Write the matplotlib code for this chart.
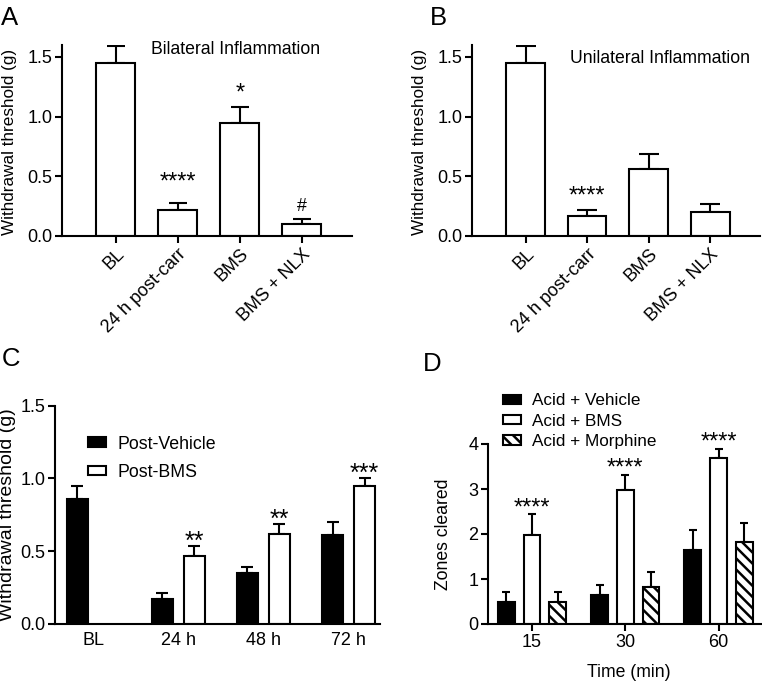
import numpy as np
import matplotlib
matplotlib.use("Agg")
import matplotlib.pyplot as plt

plt.rcParams['font.family'] = ['Liberation Sans', 'DejaVu Sans']
plt.rcParams['hatch.linewidth'] = 1.8
plt.rcParams['axes.linewidth'] = 1.5

# ---------------- data ----------------
ab_categories = ['BL', '24 h post-carr', 'BMS', 'BMS + NLX']
a_values = [1.45, 0.22, 0.95, 0.10]
a_errors = [0.14, 0.06, 0.13, 0.04]
a_marks = ['', '****', '*', '#']
b_values = [1.45, 0.17, 0.56, 0.20]
b_errors = [0.14, 0.05, 0.13, 0.07]
b_marks = ['', '****', '', '']

c_groups = ['BL', '24 h', '48 h', '72 h']
c_vehicle = [0.86, 0.17, 0.35, 0.61]
c_vehicle_err = [0.09, 0.04, 0.045, 0.09]
c_bms = [np.nan, 0.47, 0.62, 0.95]
c_bms_err = [np.nan, 0.065, 0.07, 0.055]
c_marks = ['', '**', '**', '***']

d_groups = ['15', '30', '60']
d_vehicle = [0.48, 0.65, 1.65]
d_vehicle_err = [0.24, 0.22, 0.43]
d_bms = [1.98, 2.98, 3.70]
d_bms_err = [0.46, 0.34, 0.20]
d_morphine = [0.48, 0.82, 1.82]
d_morphine_err = [0.24, 0.33, 0.42]
d_marks = ['****', '****', '****']

W, H = 762, 682
fig = plt.figure(figsize=(W / 100, H / 100), dpi=100)


def axes_px(left, right, bottom, top):
    return fig.add_axes([left / W, 1 - bottom / H, (right - left) / W, (bottom - top) / H])


def style(ax):
    for s in ['top', 'right']:
        ax.spines[s].set_visible(False)
    ax.spines['left'].set_linewidth(1.5)
    ax.spines['bottom'].set_linewidth(1.5)
    ax.tick_params(axis='both', direction='out', length=5, width=1.5, labelsize=13, pad=2)


LW = 1.5
STARFS = 17


def mark(ax, x, y, text, off, fs=STARFS):
    ax.annotate(text, (x, y), xytext=(0, off), textcoords='offset points',
                ha='center', va='baseline', fontsize=fs)


# ---------------- Panel A & B ----------------
def panel_ab(ax, values, errors, marks, offsets, title, tx, ty, capsize):
    x = np.arange(len(ab_categories))
    ax.errorbar(x, values, yerr=[np.zeros(len(values)), errors], fmt='none',
                ecolor='black', elinewidth=LW, capsize=capsize, capthick=LW, zorder=1)
    ax.bar(x, values, width=0.63, color='white', edgecolor='black', linewidth=LW, zorder=2)
    for xi, v, e, m, o in zip(x, values, errors, marks, offsets):
        if m:
            mark(ax, xi, v + e, m, o, fs=12.8 if m == '#' else STARFS)
    ax.set_ylim(0, 1.6)
    ax.set_xlim(-0.87, 3.81)
    ax.set_yticks([0, 0.5, 1.0, 1.5])
    ax.set_yticklabels(['0.0', '0.5', '1.0', '1.5'])
    ax.set_xticks(x)
    ax.set_xticklabels(ab_categories, rotation=45, ha='right', rotation_mode='anchor')
    style(ax)
    ax.set_ylabel('Withdrawal threshold (g)', fontsize=12.3)
    ax.yaxis.set_label_coords(-0.155, 0.49)
    ax.text(tx, ty, title, transform=ax.transAxes, ha='center', va='center', fontsize=12.7)


axA = axes_px(62, 352, 236, 45)
panel_ab(axA, a_values, a_errors, a_marks, [0, 9.8, 5.7, 6.2],
         'Bilateral Inflammation', 0.60, 0.975, 6.8)
axB = axes_px(472, 760, 236, 45)
panel_ab(axB, b_values, b_errors, b_marks, [0, 5.3, 0, 0],
         'Unilateral Inflammation', 0.653, 0.93, 7.5)

# ---------------- Panel C ----------------
axC = axes_px(55, 380, 624, 405.7)
xc = np.arange(len(c_groups))
off = 0.188
wc = 0.247
cv = np.array(c_vehicle)
cb = np.array(c_bms)
cbe = np.array(c_bms_err)
mask = ~np.isnan(cb)
axC.errorbar(xc - off, cv, yerr=[np.zeros(len(cv)), c_vehicle_err], fmt='none', ecolor='black',
             elinewidth=LW, capsize=4.3, capthick=LW, zorder=1)
axC.errorbar(xc[mask] + off, cb[mask], yerr=[np.zeros(mask.sum()), cbe[mask]], fmt='none',
             ecolor='black', elinewidth=LW, capsize=4.3, capthick=LW, zorder=1)
axC.bar(xc - off, cv, width=wc, color='black', edgecolor='black', linewidth=LW, zorder=2,
        label='Post-Vehicle')
axC.bar(xc[mask] + off, cb[mask], width=wc, color='white', edgecolor='black', linewidth=LW,
        zorder=2, label='Post-BMS')
for xi, v, e, m in zip(xc, cb, cbe, c_marks):
    if m:
        mark(axC, xi + off, v + e, m, -2, fs=18)
axC.set_ylim(0, 1.5)
axC.set_xlim(-0.45, 3.37)
axC.set_yticks([0, 0.5, 1.0, 1.5])
axC.set_yticklabels(['0.0', '0.5', '1.0', '1.5'])
axC.set_xticks(xc)
axC.set_xticklabels(c_groups)
style(axC)
axC.tick_params(axis='x', length=0, pad=6)
axC.set_ylabel('Withdrawal threshold (g)', fontsize=14)
axC.yaxis.set_label_coords(-0.12, 0.5)
axC.legend(loc='upper left', bbox_to_anchor=(0.1015, 0.863), frameon=False, fontsize=12.8,
           borderpad=0, borderaxespad=0, handlelength=1.0, handleheight=0.45,
           handletextpad=0.65, labelspacing=0.62)

# ---------------- Panel D ----------------
axD = axes_px(488, 762, 624, 444)
xd = np.arange(len(d_groups))
od = 0.276
wd = 0.179
for vals, errs, dx in [(d_vehicle, d_vehicle_err, -od), (d_bms, d_bms_err, 0), (d_morphine, d_morphine_err, od)]:
    axD.errorbar(xd + dx, vals, yerr=[np.zeros(len(vals)), errs], fmt='none', ecolor='black',
                 elinewidth=LW, capsize=3.2, capthick=LW, zorder=1)
axD.bar(xd - od, d_vehicle, width=wd, color='black', edgecolor='black', linewidth=LW, zorder=2,
        label='Acid + Vehicle')
axD.bar(xd, d_bms, width=wd, color='white', edgecolor='black', linewidth=LW, zorder=2,
        label='Acid + BMS')
axD.bar(xd + od, d_morphine, width=wd, color='white', edgecolor='black', linewidth=LW, zorder=2,
        hatch='\\\\\\', label='Acid + Morphine')
for xi, v, e, m in zip(xd, d_bms, d_bms_err, d_marks):
    mark(axD, xi, v + e, m, 0)
axD.set_ylim(0, 4)
axD.set_xlim(-0.473, 2.466)
axD.set_yticks([0, 1, 2, 3, 4])
axD.set_xticks(xd)
axD.set_xticklabels(d_groups)
style(axD)
axD.set_ylabel('Zones cleared', fontsize=12.7)
axD.yaxis.set_label_coords(-0.131, 0.5)
axD.set_xlabel('Time (min)', fontsize=12.7)
axD.xaxis.set_label_coords(0.513, -0.22)
axD.legend(loc='upper left', bbox_to_anchor=(0.055, 1.282), frameon=False, fontsize=12.3,
           borderpad=0, borderaxespad=0, handlelength=1.05, handleheight=0.45,
           handletextpad=0.65, labelspacing=0.32)

# ---------------- Panel letters ----------------
for lab, x, y in [('A', 1, 25), ('B', 430, 25), ('C', 2, 366), ('D', 423, 371)]:
    fig.text(x / W, 1 - y / H, lab, fontsize=18.5, ha='left', va='baseline')

fig.savefig('out.png', dpi=100)
